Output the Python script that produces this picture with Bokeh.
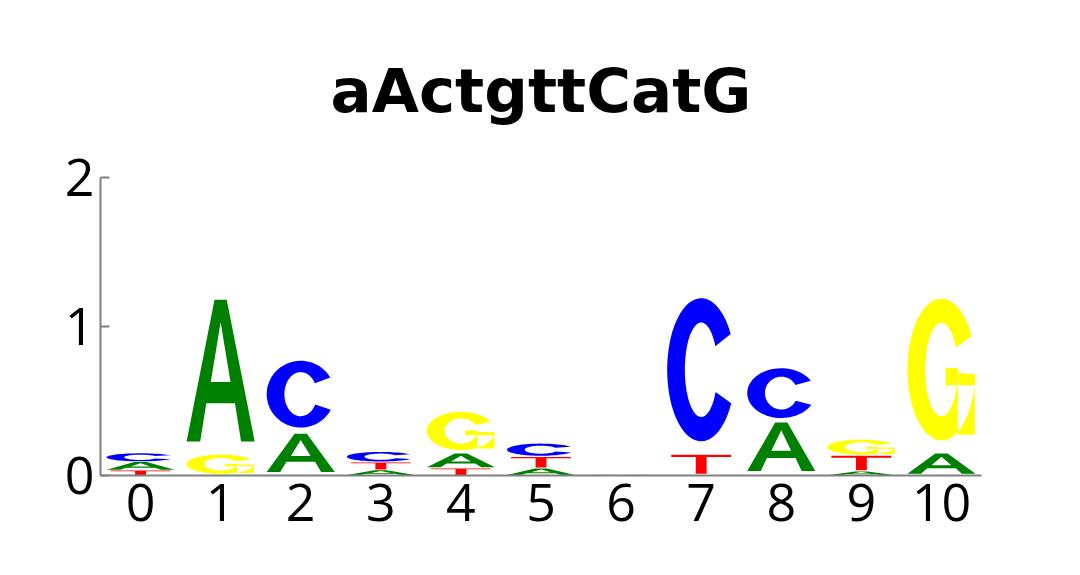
import numpy as np
from bokeh.plotting import figure
from bokeh.models import ColumnDataSource, FixedTicker, Range1d
from bokeh.embed import file_html
from bokeh.resources import INLINE

# ---- data (bits per letter at each position) ----
positions = list(range(11))
bits_A = [0.057, 1.04, 0.28, 0.035, 0.100, 0.047, 0.004, 0.0, 0.355, 0.027, 0.147]
bits_C = [0.059, 0.0, 0.49, 0.070, 0.0, 0.089, 0.0, 1.05, 0.365, 0.0, 0.0]
bits_G = [0.0, 0.14, 0.0, 0.0, 0.280, 0.0, 0.0, 0.0, 0.0, 0.108, 1.04]
bits_T = [0.033, 0.0, 0.0, 0.053, 0.047, 0.078, 0.003, 0.14, 0.0, 0.105, 0.0]
title_text = "aActgttCatG"
y_ticks = [0, 1, 2]

colors = {"A": "#008000", "C": "#0000ff", "G": "#ffff00", "T": "#ff0000"}


# ---- letter shapes in a unit box ----
def arc(rx, ry, a0, a1, n=60):
    t = np.radians(np.linspace(a0, a1, n))
    return list(0.5 + rx * np.cos(t)), list(0.5 + ry * np.sin(t))


def shape_A():
    ox = [0.0, 0.2, 0.29, 0.71, 0.8, 1.0, 0.59, 0.41]
    oy = [0.0, 0.0, 0.27, 0.27, 0.0, 0.0, 1.0, 1.0]
    hx = [0.355, 0.645, 0.5]
    hy = [0.42, 0.42, 0.84]
    return [[(ox, oy), (hx, hy)]]


def shape_T():
    x = [0.06, 0.94, 0.94, 0.58, 0.58, 0.42, 0.42, 0.06]
    y = [1.0, 1.0, 0.87, 0.87, 0.0, 0.0, 0.87, 0.87]
    return [[(x, y)]]


def ring(a0, a1, sx=0.26, sy=0.17):
    ox, oy = arc(0.5, 0.5, a0, a1)
    ix, iy = arc(0.5 - sx, 0.5 - sy, a1, a0)
    return (ox + ix, oy + iy)


def shape_C():
    return [[ring(30, 332)]]


def shape_G():
    r = ring(28, 356)
    bar = ([0.56, 0.99, 0.99, 0.56], [0.39, 0.39, 0.51, 0.51])
    stem = ([0.74, 0.99, 0.99, 0.74], [0.04, 0.04, 0.51, 0.51])
    return [[r], [bar], [stem]]


shapes = {"A": shape_A(), "C": shape_C(), "G": shape_G(), "T": shape_T()}

# ---- stack letters ----
W = 0.85
GAP = 0.085
xs, ys, cols = [], [], []
for i, pos in enumerate(positions):
    col = [("A", bits_A[i]), ("C", bits_C[i]), ("G", bits_G[i]), ("T", bits_T[i])]
    col = sorted([c for c in col if c[1] > 0], key=lambda c: c[1])
    y0 = 0.0
    for letter, h in col:
        gb = y0 + GAP * h
        gh = h * (1 - GAP)
        polys_x, polys_y = [], []
        for poly in shapes[letter]:
            rx_, ry_ = [], []
            for (ux, uy) in poly:
                rx_.append([pos - W / 2 + u * W for u in ux])
                ry_.append([gb + v * gh for v in uy])
            polys_x.append(rx_)
            polys_y.append(ry_)
        xs.append(polys_x)
        ys.append(polys_y)
        cols.append(colors[letter])
        y0 += h

src = ColumnDataSource(dict(xs=xs, ys=ys, color=cols))

p = figure(width=1064, height=559, output_backend="svg", toolbar_location=None,
           x_range=Range1d(-0.5, 10.5), y_range=Range1d(0, 2),
           min_border_left=100, min_border_right=83, min_border_top=175,
           min_border_bottom=84, title=title_text)
p.multi_polygons(xs="xs", ys="ys", fill_color="color", line_color=None, source=src)

p.title.text_font = "DejaVu Sans"
p.title.text_font_style = "bold"
p.title.text_font_size = "61px"
p.title.align = "center"
p.title.text_color = "black"
p.title.standoff = 104

p.grid.visible = False
p.outline_line_color = None
p.background_fill_color = "white"
p.border_fill_color = "white"

for ax in (p.xaxis[0], p.yaxis[0]):
    ax.axis_line_color = "#808080"
    ax.axis_line_width = 2
    ax.major_tick_line_color = "#808080"
    ax.major_tick_line_width = 2
    ax.minor_tick_line_color = None
    ax.major_label_text_font = "Open Sans"
    ax.major_label_text_font_size = "52px"
    ax.major_label_text_color = "black"

p.xaxis[0].ticker = FixedTicker(ticks=positions)
p.xaxis[0].major_tick_out = 0
p.xaxis[0].major_tick_in = 0
p.xaxis[0].major_label_standoff = 8
p.yaxis[0].ticker = FixedTicker(ticks=y_ticks)
p.yaxis[0].major_tick_out = 0
p.yaxis[0].major_tick_in = 9
p.yaxis[0].major_label_standoff = 6

open("out.html", "w").write(file_html(p, INLINE))
